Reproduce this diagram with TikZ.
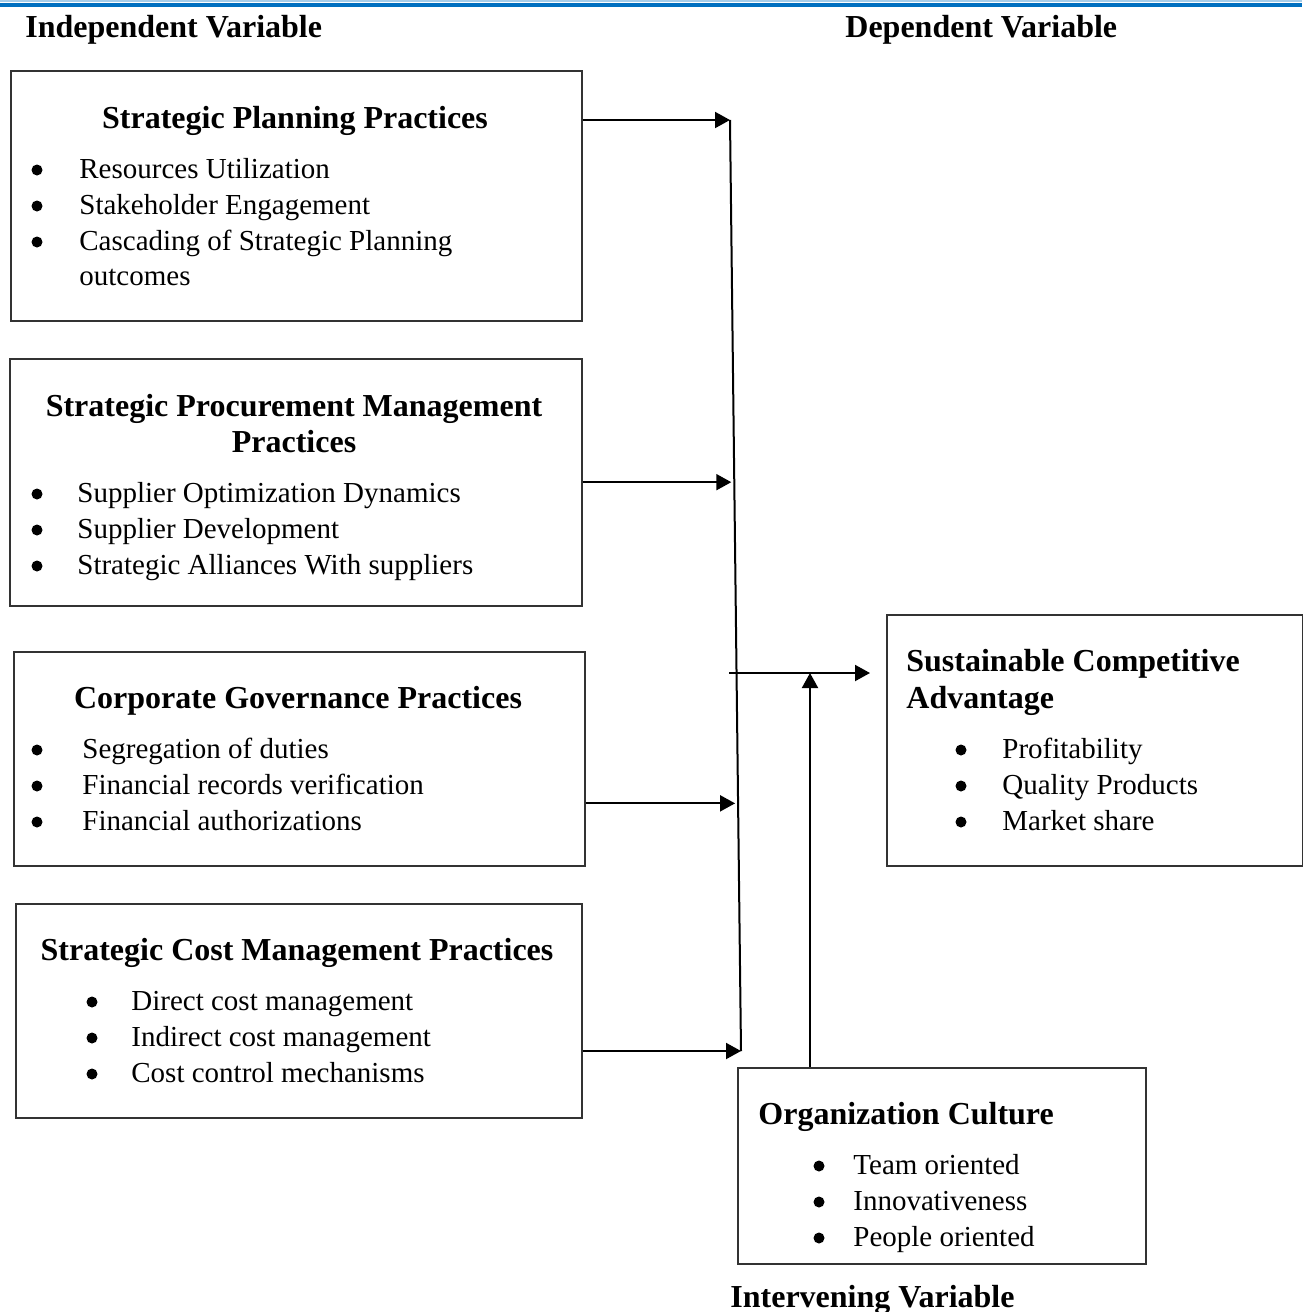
\documentclass[tikz,border=0pt]{standalone}
\usepackage{fontspec}
\setmainfont{Liberation Serif}
\usepackage{xcolor}
\usetikzlibrary{positioning,calc,arrows.meta}
\definecolor{faixa}{HTML}{0070C0}
\definecolor{traco}{HTML}{333333}

\begin{document}
\begin{tikzpicture}[
      x=0.5pt, y=-0.5pt,
      >={Triangle[length=7.5pt,width=8pt]},
      caixa/.style={draw=traco,line width=0.75pt,anchor=north west,inner sep=0pt},
      titulo/.style={font=\bfseries\fontsize{16}{18}\selectfont,inner sep=0pt},
      item/.style={font=\fontsize{14.5}{18}\selectfont,inner sep=0pt,anchor=base west},
      ponto/.style={circle,fill=black,inner sep=0pt,minimum size=5.5pt},
      seta/.style={->,line width=1pt},
    ]
    \useasboundingbox (0,0) rectangle (1302,1312);
    % faixa azul do topo
    \fill[faixa!35] (0,0) rectangle (1302,1.8);
    \fill[faixa] (0,2.5) rectangle (1302,7.3);
    \node[titulo,anchor=base west] (indep) at (25,37) {Independent Variable};
    \node[titulo,anchor=base west] (dep) at (845,37) {Dependent Variable};
    \node[titulo,anchor=base west] (interv) at (730,1307) {Intervening Variable};

    % caixas
    \node[caixa,minimum width=285.5pt,minimum height=125pt] (plan) at (10,70) {};
    \node[caixa,minimum width=286pt,minimum height=123.5pt] (proc) at (9,358) {};
    \node[caixa,minimum width=285.5pt,minimum height=107pt] (gov) at (13,651) {};
    \node[caixa,minimum width=283pt,minimum height=107pt] (cost) at (15,903) {};
    \node[caixa,minimum width=208pt,minimum height=125.5pt] (sca) at (886,614) {};
    \node[caixa,minimum width=204pt,minimum height=98pt] (cult) at (737,1067) {};

    % textos
    \node[titulo,anchor=base] (planT) at (295,128) {Strategic Planning Practices};
    \foreach \t [count=\i] in {Resources Utilization,Stakeholder Engagement,Cascading of Strategic Planning}
      {\node[ponto] (planB\i) at (37,134+36*\i) {};
       \node[item] (planI\i) at (79,142+36*\i) {\t};}
    \node[item] (planI4) at (79,285) {outcomes};

    \node[titulo,anchor=base] (procT1) at (294,416) {Strategic Procurement Management};
    \node[titulo,anchor=base] (procT2) at (294,452) {Practices};
    \foreach \t [count=\i] in {Supplier Optimization Dynamics,Supplier Development,Strategic Alliances With suppliers}
      {\node[ponto] (procB\i) at (37,458+36*\i) {};
       \node[item] (procI\i) at (77,466+36*\i) {\t};}

    \node[titulo,anchor=base] (govT) at (298,708) {Corporate Governance Practices};
    \foreach \t [count=\i] in {Segregation of duties,Financial records verification,Financial authorizations}
      {\node[ponto] (govB\i) at (37,714+36*\i) {};
       \node[item] (govI\i) at (82,722+36*\i) {\t};}

    \node[titulo,anchor=base] (costT) at (297,960) {Strategic Cost Management Practices};
    \foreach \t [count=\i] in {Direct cost management,Indirect cost management,Cost control mechanisms}
      {\node[ponto] (costB\i) at (92,966+36*\i) {};
       \node[item] (costI\i) at (131,974+36*\i) {\t};}

    \node[titulo,anchor=base west] (scaT1) at (906,671) {Sustainable Competitive};
    \node[titulo,anchor=base west] (scaT2) at (906,708) {Advantage};
    \foreach \t [count=\i] in {Profitability,Quality Products,Market share}
      {\node[ponto] (scaB\i) at (961,714+36*\i) {};
       \node[item] (scaI\i) at (1002,722+36*\i) {\t};}

    \node[titulo,anchor=base west] (cultT) at (758,1124) {Organization Culture};
    \foreach \t [count=\i] in {Team oriented,Innovativeness,People oriented}
      {\node[ponto] (cultB\i) at (819,1130+36*\i) {};
       \node[item] (cultI\i) at (853,1138+36*\i) {\t};}

    % ligacoes
    \coordinate (topo) at (730,120);
    \coordinate (base) at (741,1051);
    \coordinate (m2) at ($(topo)!0.389!(base)$);
    \coordinate (m3) at ($(topo)!0.734!(base)$);
    \coordinate (saida) at (729,673);
    \coordinate (junta) at (810,673);
    \draw[line width=1pt] (topo) -- (base);
    \draw[seta] (plan.east |- topo) -- (topo);
    \draw[seta,shorten >=1.5pt] (proc.east |- m2) -- (m2);
    \draw[seta,shorten >=1.5pt] (gov.east |- m3) -- (m3);
    \draw[seta] (cost.east |- base) -- (base);
    \draw[seta,shorten >=8pt] (saida) -- (sca.west |- saida);
    \draw[seta] (cult.north -| junta) -- (junta);
\end{tikzpicture}
\end{document}
